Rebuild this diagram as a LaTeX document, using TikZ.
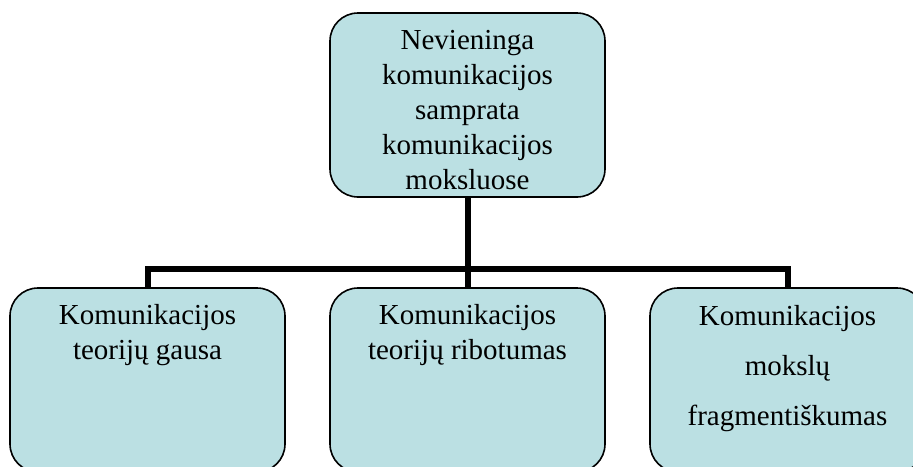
\documentclass[tikz,border=0pt]{standalone}
\usepackage{fontspec}
\setmainfont{Liberation Serif}
\definecolor{boxfill}{HTML}{BBE0E3}
\tikzset{
  cbox/.style={draw=black, line width=1.6pt, fill=boxfill, rounded corners=28pt,
    minimum width=275pt, minimum height=184pt, inner sep=0pt},
  ctext/.style={align=center, inner sep=0pt, anchor=north,
    font=\fontsize{29pt}{35pt}\selectfont},
  wide/.style={font=\fontsize{29pt}{50pt}\selectfont},
  link/.style={line width=6pt}
}
\begin{document}
\begin{tikzpicture}[x=1pt,y=-1pt]
\useasboundingbox (0,0) rectangle (913,466);
\clip (0,0) rectangle (913,466);
\node[cbox] (top) at (467.5,105) {};
\node[cbox] (b1) at (147.5,380) {};
\node[cbox] (b2) at (467.5,380) {};
\node[cbox] (b3) at (787.5,380) {};
\coordinate (j) at (467.5,269);
\draw[link] (top.south) -- (j);
\draw[link] (b1.north) |- (j);
\draw[link] (b3.north) |- (j);
\draw[link] (b2.north) -- (j);
\node[ctext] (ttop) at (467.5,30.5) {Nevieninga\\komunikacijos\\samprata\\komunikacijos\\moksluose};
\node[ctext] (t1) at (147.5,304) {Komunikacijos\\teorijų gausa};
\node[ctext] (t2) at (467.5,304) {Komunikacijos\\teorijų ribotumas};
\node[ctext,wide] (t3) at (787.5,305) {Komunikacijos\\mokslų\\fragmentiškumas};
\end{tikzpicture}
\end{document}
